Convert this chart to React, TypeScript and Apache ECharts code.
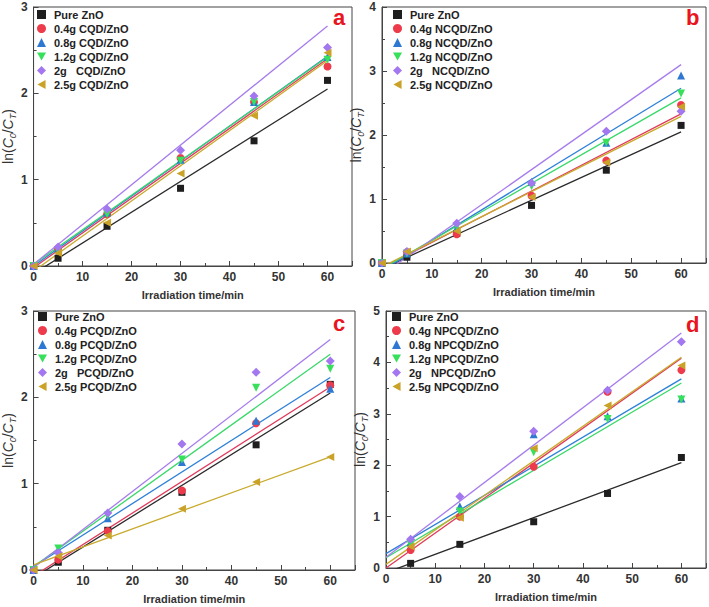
import React, { useEffect, useRef } from "react";
import * as echarts from "echarts";

// time points
const timesABC = [0, 5, 15, 30, 45, 60];
const timesD = [5, 15, 30, 45, 60];

// Pure ZnO (same in all panels)
const pureABC = [0, 0.09, 0.46, 0.9, 1.45, 2.15];
const pureD = [0.09, 0.46, 0.9, 1.45, 2.15];

// Panel a: CQD/ZnO
const a04 = [0, 0.2, 0.6, 1.25, 1.9, 2.31];
const a08 = [0, 0.2, 0.62, 1.23, 1.9, 2.42];
const a12 = [0, 0.18, 0.6, 1.22, 1.9, 2.39];
const a2 = [0, 0.22, 0.66, 1.34, 1.97, 2.53];
const a25 = [0, 0.15, 0.5, 1.07, 1.74, 2.47];

// Panel b: NCQD/ZnO
const b04 = [0, 0.17, 0.45, 1.05, 1.6, 2.47];
const b08 = [0, 0.15, 0.55, 1.27, 1.88, 2.93];
const b12 = [0, 0.15, 0.57, 1.2, 1.88, 2.65];
const b2 = [0, 0.18, 0.62, 1.25, 2.06, 2.37];
const b25 = [0, 0.18, 0.5, 1.03, 1.57, 2.44];

// Panel c: PCQD/ZnO
const c04 = [0, 0.12, 0.45, 0.92, 1.7, 2.14];
const c08 = [0, 0.23, 0.6, 1.25, 1.73, 2.1];
const c12 = [0, 0.25, 0.63, 1.28, 2.11, 2.33];
const c2 = [0, 0.2, 0.66, 1.46, 2.29, 2.42];
const c25 = [0, 0.16, 0.4, 0.71, 1.02, 1.31];

// Panel d: NPCQD/ZnO
const d04 = [0.35, 1.0, 1.97, 3.43, 3.85];
const d08 = [0.5, 1.2, 2.6, 2.95, 3.3];
const d12 = [0.45, 1.1, 2.25, 2.9, 3.28];
const d2 = [0.56, 1.39, 2.66, 3.46, 4.4];
const d25 = [0.42, 0.98, 2.33, 3.16, 3.94];

// linear fits: [value at t=0, value at t=60], order: pure, 0.4, 0.8, 1.2, 2, 2.5
const fitA = [[-0.09, 2.05], [-0.02, 2.4], [0.0, 2.43], [0.02, 2.42], [0.02, 2.78], [-0.06, 2.38]];
const fitB = [[-0.09, 2.05], [-0.08, 2.33], [-0.12, 2.73], [-0.09, 2.58], [-0.18, 3.1], [-0.06, 2.29]];
const fitC = [[-0.09, 2.05], [-0.07, 2.12], [0.04, 2.23], [0.04, 2.5], [0.03, 2.67], [0.06, 1.31]];
const fitD = [[-0.09, 2.05], [0.0, 4.08], [0.28, 3.68], [0.2, 3.6], [0.21, 4.57], [0.07, 4.1]];

const yMax = [3, 4, 3, 5];
const panelLetters = ["a", "b", "c", "d"];
const prefixes = ["CQD", "NCQD", "PCQD", "NPCQD"];
const loadings = ["0.4g ", "0.8g ", "1.2g ", "2g   ", "2.5g "];

const colors = ["#1e1e1e", "#ee3b4b", "#2e78d2", "#36e05a", "#a377f0", "#c9a227"];
const lineColors = ["#2a2a2a", "#e03a5a", "#2e80d8", "#3ad86a", "#a67cec", "#c8aa2c"];
const symbols = [
  "rect",
  "circle",
  "triangle",
  "path://M0,0 L10,0 L5,9 Z",
  "diamond",
  "path://M0,5 L9,0 L9,10 Z",
];
const symbolSizes = [7, 8, 8, 8, 9, 8];

const FONT = '"Liberation Sans", Arial, sans-serif';

const grids = [
  { left: 29, top: 7, width: 323, height: 259 },
  { left: 382, top: 7, width: 324, height: 256 },
  { left: 32, top: 311, width: 323, height: 259 },
  { left: 386, top: 311, width: 320, height: 257 },
];
const legendPos = [
  { left: 37, top: 9 },
  { left: 393, top: 9 },
  { left: 38, top: 311 },
  { left: 392, top: 311 },
];
const letterPos = [
  { left: 333, top: 6 },
  { left: 686, top: 6 },
  { left: 333, top: 312 },
  { left: 686, top: 313 },
];

export default function App() {
  const ref = useRef<HTMLDivElement>(null);
  useEffect(() => {
    if (!ref.current) return;
    const chart = echarts.init(ref.current, null, { renderer: "svg" });

    const panelData = [
      { t: timesABC, vals: [pureABC, a04, a08, a12, a2, a25], fit: fitA },
      { t: timesABC, vals: [pureABC, b04, b08, b12, b2, b25], fit: fitB },
      { t: timesABC, vals: [pureABC, c04, c08, c12, c2, c25], fit: fitC },
      { t: timesD, vals: [pureD, d04, d08, d12, d2, d25], fit: fitD },
    ];

    const series: any[] = [];
    const legends: any[] = [];
    const xAxes: any[] = [];
    const yAxes: any[] = [];
    const graphics: any[] = [];

    panelData.forEach((p, pi) => {
      const names = ["Pure ZnO", ...loadings.map((l) => `${l}${prefixes[pi]}/ZnO`)];
      p.vals.forEach((v, si) => {
        series.push({
          type: "line",
          name: `fit-${pi}-${si}`,
          xAxisIndex: pi,
          yAxisIndex: pi,
          data: [
            [0, p.fit[si][0]],
            [60, p.fit[si][1]],
          ],
          symbol: "none",
          clip: true,
          lineStyle: { color: lineColors[si], width: 1.3 },
          z: 2,
          silent: true,
        });
      });
      p.vals.forEach((v, si) => {
        series.push({
          type: "scatter",
          name: names[si],
          xAxisIndex: pi,
          yAxisIndex: pi,
          data: v.map((y, i) => [p.t[i], y]),
          symbol: symbols[si],
          symbolSize: symbolSizes[si],
          itemStyle: { color: colors[si], opacity: 1 },
          clip: false,
          z: 3,
        });
      });
      legends.push({
        orient: "vertical",
        left: legendPos[pi].left,
        top: legendPos[pi].top,
        data: names.map((n, si) => ({ name: n, icon: symbols[si] })),
        itemWidth: 9,
        itemHeight: 9,
        itemGap: 3,
        selectedMode: false,
        padding: 0,
        textStyle: {
          fontFamily: FONT,
          fontWeight: "bold",
          fontSize: 11,
          lineHeight: 11,
          color: "#222",
          padding: [0, 0, 0, 3],
        },
      });
      xAxes.push({
        type: "value",
        gridIndex: pi,
        min: 0,
        max: 65,
        interval: 10,
        axisLine: { show: true, onZero: false, lineStyle: { color: "#444", width: 1 } },
        axisTick: { show: true, inside: true, length: 5, lineStyle: { color: "#444" } },
        minorTick: { show: true, splitNumber: 2, length: 3, lineStyle: { color: "#444" } },
        splitLine: { show: false },
        axisLabel: {
          showMaxLabel: false,
          color: "#333",
          fontFamily: FONT,
          fontWeight: "bold",
          fontSize: 12,
          margin: 5,
        },
        name: "Irradiation time/min",
        nameLocation: "middle",
        nameGap: 23,
        nameTextStyle: { color: "#333", fontFamily: FONT, fontWeight: "bold", fontSize: 11 },
      });
      yAxes.push({
        type: "value",
        gridIndex: pi,
        min: 0,
        max: yMax[pi],
        interval: 1,
        axisLine: { show: true, onZero: false, lineStyle: { color: "#444", width: 1 } },
        axisTick: { show: true, inside: true, length: 5, lineStyle: { color: "#444" } },
        minorTick: { show: true, splitNumber: 2, length: 3, lineStyle: { color: "#444" } },
        splitLine: { show: false },
        axisLabel: {
          color: "#333",
          fontFamily: FONT,
          fontWeight: "bold",
          fontSize: 12,
          margin: 6,
        },
        name: "{t|ln(}{i|C}{s|0}{t|/}{i|C}{s|T}{t|)}",
        nameLocation: "middle",
        nameGap: 11,
        nameRotate: 90,
        nameTextStyle: {
          color: "#333",
          fontFamily: FONT,
          fontSize: 14,
          rich: {
            t: { fontFamily: FONT, fontSize: 14, color: "#333", lineHeight: 18 },
            i: { fontFamily: FONT, fontSize: 14, fontStyle: "italic", color: "#333", lineHeight: 18 },
            s: {
              fontFamily: FONT,
              fontSize: 9,
              fontStyle: "italic",
              color: "#333",
              lineHeight: 9,
              verticalAlign: "bottom",
            },
          },
        },
      });
      graphics.push({
        type: "text",
        left: letterPos[pi].left,
        top: letterPos[pi].top,
        style: {
          text: panelLetters[pi],
          font: `bold 22px ${FONT}`,
          fill: "#e8141e",
        },
      });
    });

    chart.setOption({
      animation: false,
      backgroundColor: "#ffffff",
      grid: grids.map((g) => ({ ...g, show: true, borderColor: "#444", borderWidth: 1, backgroundColor: "transparent" })),
      xAxis: xAxes,
      yAxis: yAxes,
      legend: legends,
      graphic: graphics,
      series,
    });
    return () => chart.dispose();
  }, []);
  return (
    <div
      ref={ref}
      style={{ position: "absolute", left: 0, top: 0, width: 709, height: 607 }}
    />
  );
}
